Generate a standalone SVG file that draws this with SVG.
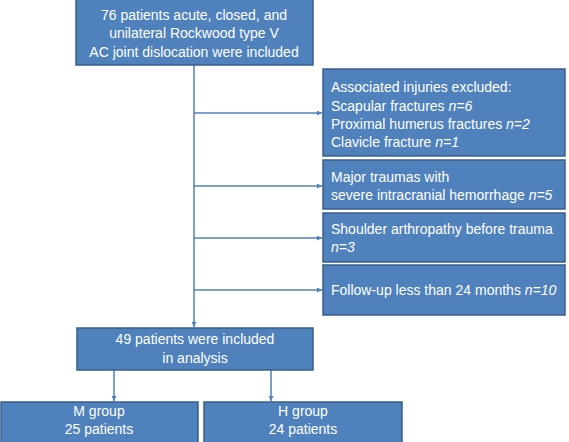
<svg xmlns="http://www.w3.org/2000/svg" width="569" height="442" viewBox="0 0 569 442">
<style>
.box{fill:#4f81bd;stroke:#385d8a;stroke-width:1.5}
.t{font-family:"Liberation Sans",Arial,sans-serif;font-size:14px;fill:#ffffff}
.c{text-anchor:middle}
.ln{stroke:#4f81bd;stroke-width:1.5;fill:none}
</style>
<defs>
<marker id="ah" viewBox="0 0 10 10" refX="10" refY="5" markerWidth="5" markerHeight="5" orient="auto" markerUnits="userSpaceOnUse">
<path d="M0,0 L10,5 L0,10 z" fill="#4f81bd"/>
</marker>
</defs>
<rect width="569" height="442" fill="#ffffff"/>
<g id="connectors">
<line class="ln" x1="194" y1="65" x2="194" y2="327" marker-end="url(#ah)"/>
<line class="ln" x1="194" y1="113" x2="322" y2="113" marker-end="url(#ah)"/>
<line class="ln" x1="194" y1="186" x2="322" y2="186" marker-end="url(#ah)"/>
<line class="ln" x1="194" y1="238" x2="322" y2="238" marker-end="url(#ah)"/>
<line class="ln" x1="194" y1="290" x2="322" y2="290" marker-end="url(#ah)"/>
<line class="ln" x1="114" y1="370" x2="114" y2="401" marker-end="url(#ah)"/>
<line class="ln" x1="271" y1="370" x2="271" y2="401" marker-end="url(#ah)"/>
</g>
<g id="n-start">
<rect class="box" x="76" y="-2" width="237" height="67"/>
<text class="t c" x="194" y="20">76 patients acute, closed, and</text>
<text class="t c" x="194" y="38">unilateral Rockwood type V</text>
<text class="t c" x="194" y="57">AC joint dislocation were included</text>
</g>
<g id="n-assoc">
<rect class="box" x="323" y="69" width="242" height="87"/>
<text class="t" x="331" y="92">Associated injuries excluded:</text>
<text class="t" x="331" y="111">Scapular fractures <tspan font-style="italic">n=6</tspan></text>
<text class="t" x="331" y="129">Proximal humerus fractures <tspan font-style="italic">n=2</tspan></text>
<text class="t" x="331" y="147">Clavicle fracture <tspan font-style="italic">n=1</tspan></text>
</g>
<g id="n-major">
<rect class="box" x="323" y="160" width="242" height="49"/>
<text class="t" x="331" y="182">Major traumas with</text>
<text class="t" x="331" y="200">severe intracranial hemorrhage <tspan font-style="italic">n=5</tspan></text>
</g>
<g id="n-shoulder">
<rect class="box" x="323" y="213" width="242" height="49"/>
<text class="t" x="331" y="234">Shoulder arthropathy before trauma</text>
<text class="t" x="331" y="252"><tspan font-style="italic">n=3</tspan></text>
</g>
<g id="n-follow">
<rect class="box" x="323" y="265" width="242" height="50"/>
<text class="t" x="331" y="295">Follow-up less than 24 months <tspan font-style="italic">n=10</tspan></text>
</g>
<g id="n-included">
<rect class="box" x="77" y="328" width="236" height="42"/>
<text class="t c" x="195" y="344">49 patients were included</text>
<text class="t c" x="195" y="363">in analysis</text>
</g>
<g id="n-m">
<rect class="box" x="1" y="402" width="197" height="46"/>
<text class="t c" x="99" y="416">M group</text>
<text class="t c" x="99" y="434">25 patients</text>
</g>
<g id="n-h">
<rect class="box" x="204" y="402" width="198" height="46"/>
<text class="t c" x="303" y="416">H group</text>
<text class="t c" x="303" y="434">24 patients</text>
</g>
</svg>
